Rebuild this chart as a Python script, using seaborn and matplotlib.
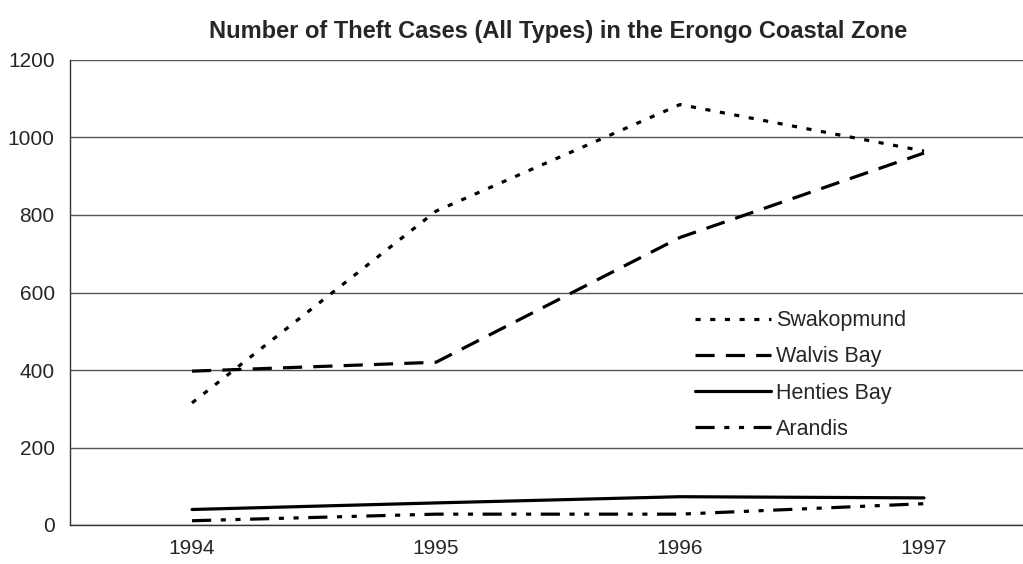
import pandas as pd
from matplotlib import pyplot as plt
import seaborn as sns

years = ["1994", "1995", "1996", "1997"]
towns = ["Swakopmund", "Walvis Bay", "Henties Bay", "Arandis"]
swakopmund = [315, 810, 1085, 965]
walvis_bay = [397, 420, 742, 960]
henties_bay = [40, 57, 73, 70]
arandis = [11, 28, 28, 55]

sns.set_theme(style="white")
plt.rcParams['font.family'] = ['Liberation Sans', 'DejaVu Sans']

rows = []
for town, vals in zip(towns, [swakopmund, walvis_bay, henties_bay, arandis]):
    for i, v in enumerate(vals):
        rows.append({"pos": i, "year": years[i], "town": town, "cases": v})
df = pd.DataFrame(rows)

# dash patterns, in units of line width
dash_styles = {
    "Swakopmund": (1.6, 3.0),
    "Walvis Bay": (6, 3.5),
    "Henties Bay": "",
    "Arandis": (6, 3, 1.6, 3, 1.6, 3),
}

fig = plt.figure(figsize=(10.23, 5.64), dpi=100)
ax = fig.add_axes([70 / 1023, 39 / 564, 976 / 1023, 465 / 564])

sns.lineplot(data=df, x="pos", y="cases", style="town", style_order=towns,
             dashes=dash_styles, color="black", linewidth=2.3, ax=ax)

ax.set_xlim(-0.5, 3.5)
ax.set_ylim(0, 1200)
ax.set_yticks(range(0, 1201, 200))
ax.set_xticks(range(4))
ax.set_xticklabels(years)
ax.set_xticks([-0.5, 0.5, 1.5, 2.5, 3.5], minor=True)
ax.tick_params(axis="x", which="major", length=0, pad=10, labelsize=15)
ax.tick_params(axis="x", which="minor", length=5, width=1, color="#333333", direction="out")
ax.tick_params(axis="y", length=5, width=1, color="#333333", direction="out", labelsize=15, pad=6)
ax.set_xlabel("")
ax.set_ylabel("")

ax.yaxis.grid(True, color="#555555", linewidth=1)
ax.set_axisbelow(True)
for s in ["top", "right"]:
    ax.spines[s].set_visible(False)
for s in ["left", "bottom"]:
    ax.spines[s].set_color("#333333")
    ax.spines[s].set_linewidth(1)

ax.set_title("Number of Theft Cases (All Types) in the Erongo Coastal Zone",
             fontsize=17, fontweight="bold", pad=16)

handles, labels = ax.get_legend_handles_labels()
ax.legend(handles, labels, loc="upper left", bbox_to_anchor=(676 / 1023, 1 - 291 / 564),
          bbox_transform=fig.transFigure, frameon=False, fontsize=15.5,
          handlelength=3.5, handletextpad=0.25, labelspacing=0.7)

fig.savefig("out.png", dpi=100)
